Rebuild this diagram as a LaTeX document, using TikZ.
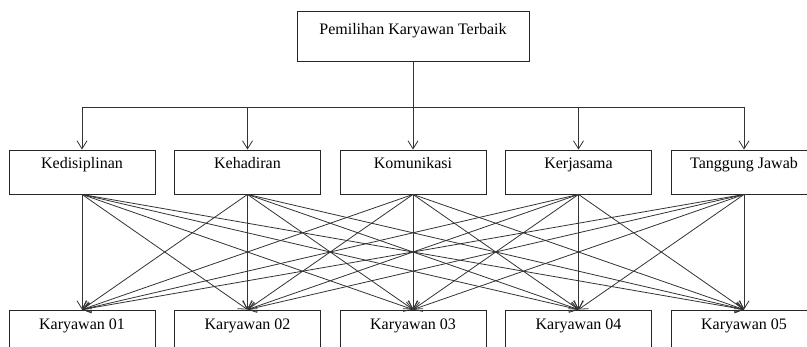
\documentclass[tikz,border=0pt]{standalone}
\usepackage{fontspec}
\setmainfont{Liberation Serif}
\usetikzlibrary{arrows.meta}

\begin{document}
\begin{tikzpicture}[x=1pt, y=1pt, >={Straight Barb[length=8pt,width=10pt]}, node distance=165.5pt,
    block/.style={rectangle, draw=black!85, line width=0.9pt, minimum width=146pt, inner sep=0pt, text height=19pt, text depth=25pt, font=\fontsize{16}{19}\selectfont},
    wire/.style={draw=black!80, line width=0.8pt},
    line/.style={wire, ->}]
    \clip (0,0) rectangle (807,-347);

    \node [block, minimum width=232pt, text height=24pt, text depth=26pt] (goal) at (413,-36) {Pemilihan Karyawan Terbaik};
    \coordinate [below of=goal, node distance=71pt] (bus);

    \node [block, below of=goal, node distance=136pt] (komunikasi) {Komunikasi};
    \node [block, left of=komunikasi] (kehadiran) {Kehadiran};
    \node [block, left of=kehadiran] (kedisiplinan) {Kedisiplinan};
    \node [block, right of=komunikasi] (kerjasama) {Kerjasama};
    \node [block, right of=kerjasama] (tanggung) {Tanggung Jawab};

    \node [block, below of=kedisiplinan, node distance=160pt, text height=20pt, text depth=24pt] (kry1) {Karyawan 01};
    \node [block, right of=kry1, text height=20pt, text depth=24pt] (kry2) {Karyawan 02};
    \node [block, right of=kry2, text height=20pt, text depth=24pt] (kry3) {Karyawan 03};
    \node [block, right of=kry3, text height=20pt, text depth=24pt] (kry4) {Karyawan 04};
    \node [block, right of=kry4, text height=20pt, text depth=24pt] (kry5) {Karyawan 05};

    \path [wire] (goal.south) -- (bus);
    \path [wire] (bus -| kedisiplinan.north) -- (bus -| tanggung.north);
    \foreach \c in {kedisiplinan, kehadiran, komunikasi, kerjasama, tanggung}
        \path [line] (bus -| \c.north) -- (\c.north);

    % every criterion points to every employee
    \foreach \c in {kedisiplinan, kehadiran, komunikasi, kerjasama, tanggung}
        \foreach \k in {kry1, kry2, kry3, kry4, kry5}
            \path [line] (\c.south) -- (\k.north);
\end{tikzpicture}
\end{document}
